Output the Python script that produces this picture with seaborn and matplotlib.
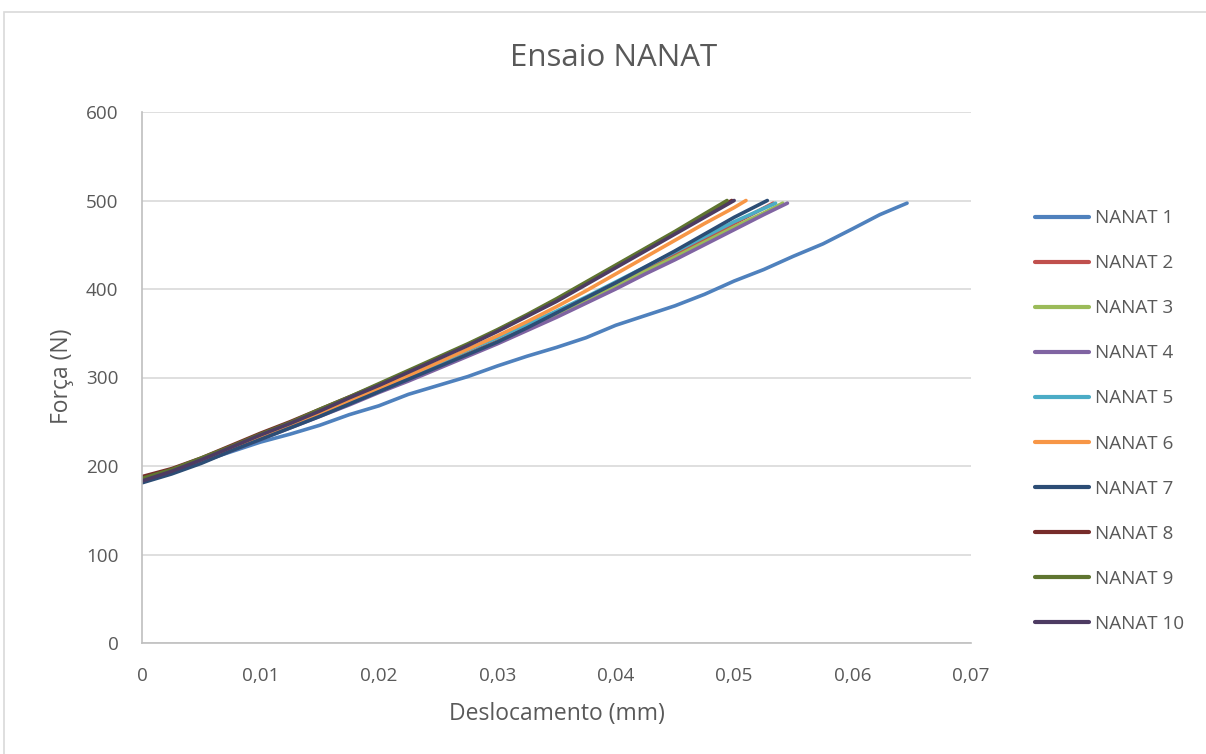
import numpy as np
import pandas as pd
import matplotlib
matplotlib.use("Agg")
import matplotlib.pyplot as plt
from matplotlib.patches import Rectangle
from matplotlib.ticker import FuncFormatter
import seaborn as sns

# Displacement (mm) and force (N) readings for each specimen
d_1 = [0, .0025, .005, .0075, .01, .0125, .015, .0175, .02, .0225, .025, .0275, .03,
       .0325, .035, .0375, .04, .0425, .045, .0475, .05, .0525, .055, .0575, .06, .0623, .0646]
f_1 = [182, 193, 205, 216, 227, 236, 246, 258, 268, 281, 291, 301, 313,
       324, 334, 345, 359, 370, 381, 394, 409, 422, 437, 451, 468, 484, 497]

d_2 = [0, .0025, .005, .0075, .01, .0125, .015, .0175, .02, .0225, .025, .0275, .03,
       .0325, .035, .0375, .04, .0425, .045, .0475, .05, .0533]
f_2 = [184, 194, 206, 219, 232, 245, 258, 272, 286, 299, 313, 327, 341,
       356, 372, 388, 405, 422, 439, 456, 474, 497]

d_3 = [0, .0025, .005, .0075, .01, .0125, .015, .0175, .02, .0225, .025, .0275, .03,
       .0325, .035, .0375, .04, .0425, .045, .0475, .05, .0525, .0541]
f_3 = [183, 193, 205, 218, 231, 244, 257, 271, 285, 298, 312, 326, 340,
       355, 370, 386, 403, 420, 436, 453, 470, 486, 497]

d_4 = [0, .0025, .005, .0075, .01, .0125, .015, .0175, .02, .0225, .025, .0275, .03,
       .0325, .035, .0375, .04, .0425, .045, .0475, .05, .0525, .0545]
f_4 = [182, 192, 204, 217, 230, 243, 256, 269, 283, 296, 310, 324, 338,
       353, 368, 384, 400, 417, 433, 450, 467, 484, 497]

d_5 = [0, .0025, .005, .0075, .01, .0125, .015, .0175, .02, .0225, .025, .0275, .03,
       .0325, .035, .0375, .04, .0425, .045, .0475, .05, .0535]
f_5 = [184, 194, 206, 219, 233, 246, 260, 274, 288, 302, 316, 331, 345,
       360, 375, 391, 408, 425, 442, 459, 476, 497]

d_6 = [0, .0025, .005, .0075, .01, .0125, .015, .0175, .02, .0225, .025, .0275, .03,
       .0325, .035, .0375, .04, .0425, .045, .0475, .05, .0510]
f_6 = [185, 195, 207, 220, 233, 246, 260, 274, 288, 302, 317, 332, 347,
       363, 380, 398, 417, 436, 455, 474, 492, 500]

d_7 = [0, .0025, .005, .0075, .01, .0125, .015, .0175, .02, .0225, .025, .0275, .03,
       .0325, .035, .0375, .04, .0425, .045, .0475, .05, .0528]
f_7 = [181, 191, 203, 217, 230, 243, 256, 270, 284, 298, 312, 326, 340,
       356, 373, 390, 407, 425, 443, 462, 481, 500]

d_8 = [0, .0025, .005, .0075, .01, .0125, .015, .0175, .02, .0225, .025, .0275, .03,
       .0325, .035, .0375, .04, .0425, .045, .0475, .0498]
f_8 = [188, 197, 209, 223, 237, 250, 264, 278, 292, 307, 322, 337, 353,
       370, 388, 407, 426, 445, 464, 483, 500]

d_9 = [0, .0025, .005, .0075, .01, .0125, .015, .0175, .02, .0225, .025, .0275, .03,
       .0325, .035, .0375, .04, .0425, .045, .0475, .0494]
f_9 = [186, 196, 209, 222, 236, 249, 264, 278, 293, 308, 323, 338, 354,
       371, 389, 408, 427, 446, 465, 485, 500]

d_10 = [0, .0025, .005, .0075, .01, .0125, .015, .0175, .02, .0225, .025, .0275, .03,
        .0325, .035, .0375, .04, .0425, .045, .0475, .0500]
f_10 = [183, 194, 207, 221, 235, 248, 262, 277, 291, 306, 321, 336, 352,
        369, 386, 405, 424, 443, 462, 481, 500]

series_names = [f"NANAT {i}" for i in range(1, 11)]
series_d = [d_1, d_2, d_3, d_4, d_5, d_6, d_7, d_8, d_9, d_10]
series_f = [f_1, f_2, f_3, f_4, f_5, f_6, f_7, f_8, f_9, f_10]
colors = ["#4F81BD", "#C0504D", "#9BBB59", "#8064A2", "#4BACC6",
          "#F79646", "#2C4D75", "#772C2A", "#5F7530", "#4D3B62"]

x_ticks = [0, 0.01, 0.02, 0.03, 0.04, 0.05, 0.06, 0.07]
y_ticks = [0, 100, 200, 300, 400, 500, 600]

frames = [pd.DataFrame({"Deslocamento": d, "Força": f, "Série": n})
          for n, d, f in zip(series_names, series_d, series_f)]
df = pd.concat(frames, ignore_index=True)

sns.set_theme(style="white")
plt.rcParams["font.family"] = ["Open Sans", "DejaVu Sans"]
text_color = "#595959"

fig = plt.figure(figsize=(12.06, 7.54), dpi=100)
fig.patch.set_facecolor("white")

# light chart-area frame
fig.patches.append(Rectangle((4 / 1206, -0.2), 1.2, 1.2 - 12 / 754,
                             transform=fig.transFigure, fill=False,
                             edgecolor="#D9D9D9", linewidth=1.2, zorder=0))

ax = fig.add_axes([142 / 1206, (754 - 643) / 754, (971 - 142) / 1206, (643 - 112) / 754])

sns.lineplot(data=df, x="Deslocamento", y="Força", hue="Série",
             hue_order=series_names, palette=colors, sort=False,
             estimator=None, linewidth=2.6, ax=ax, legend=True)

ax.set_xlim(0, 0.07)
ax.set_ylim(0, 600)
ax.set_xticks(x_ticks)
ax.set_yticks(y_ticks)
ax.xaxis.set_major_formatter(FuncFormatter(lambda v, p: "0" if v == 0 else f"{v:.2f}".replace(".", ",")))
ax.yaxis.set_major_formatter(FuncFormatter(lambda v, p: f"{v:.0f}"))
ax.tick_params(axis="both", length=0, labelsize=13.6, labelcolor=text_color)
ax.tick_params(axis="x", pad=17)
ax.tick_params(axis="y", pad=17)

ax.grid(axis="y", color="#D9D9D9", linewidth=1.2)
ax.grid(axis="x", visible=False)
ax.set_axisbelow(True)
for side in ["top", "right"]:
    ax.spines[side].set_visible(False)
for side in ["left", "bottom"]:
    ax.spines[side].set_color("#BFBFBF")
    ax.spines[side].set_linewidth(1.2)

ax.set_xlabel("Deslocamento (mm)", fontsize=16.5, color=text_color)
ax.set_ylabel("Força (N)", fontsize=16.5, color=text_color)
ax.xaxis.set_label_coords(0.5006, -0.1337)
ax.yaxis.set_label_coords(-0.0965, 0.503)
ax.xaxis.label.set_va("center")
ax.yaxis.label.set_va("center")

fig.text(614 / 1206, 1 - 58 / 754, "Ensaio NANAT", ha="center", va="center",
         fontsize=22.5, color=text_color)

handles, labels = ax.get_legend_handles_labels()
ax.legend_.remove()
leg = fig.legend(handles, labels, loc="center left",
                 bbox_to_anchor=(1027 / 1206, 1 - 421 / 754),
                 frameon=False, fontsize=13.6, handlelength=2.9,
                 handletextpad=0.3, labelspacing=1.43, borderaxespad=0)
for t in leg.get_texts():
    t.set_color(text_color)
for h in leg.get_lines():
    h.set_linewidth(3)

fig.savefig("out.png", dpi=100)
